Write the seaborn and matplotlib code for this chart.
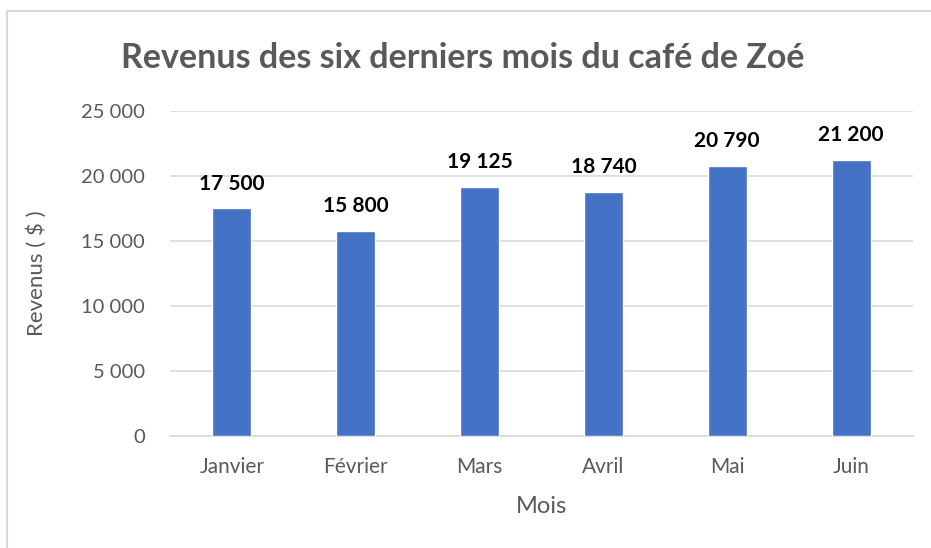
import matplotlib
matplotlib.use("Agg")
import matplotlib.pyplot as plt
from matplotlib.lines import Line2D
import seaborn as sns
import pandas as pd

# Data
mois = ["Janvier", "Février", "Mars", "Avril", "Mai", "Juin"]
revenus = [17500, 15800, 19125, 18740, 20790, 21200]
y_ticks = [0, 5000, 10000, 15000, 20000, 25000]

df = pd.DataFrame({"Mois": mois, "Revenus": revenus})

sns.set_theme(style="white")
plt.rcParams["font.family"] = ["Lato", "DejaVu Sans"]

GRAY = "#595959"
GRID = "#d9d9d9"
BLUE = "#4472C4"

fig = plt.figure(figsize=(9.31, 5.48), dpi=100)
ax = fig.add_axes([170 / 931, 1 - 436 / 548, (913 - 170) / 931, (436 - 111) / 548])

sns.barplot(data=df, x="Mois", y="Revenus", color=BLUE, width=0.315,
            saturation=1, ax=ax, zorder=3)

def fmt(v):
    return f"{v:,.0f}".replace(",", " ")

for i, v in enumerate(revenus):
    ax.annotate(fmt(v), (i, v), xytext=(0, 18), textcoords="offset points",
                ha="center", va="center", fontsize=15, fontweight="bold",
                color="black")

ax.set_ylim(0, 25000)
ax.set_xlim(-0.5, 5.5)
ax.set_yticks(y_ticks)
ax.set_yticklabels([fmt(t) for t in y_ticks], fontsize=14.5, color=GRAY)
ax.tick_params(axis="y", length=0, pad=18)
ax.tick_params(axis="x", which="major", length=0, labelsize=15,
               labelcolor=GRAY, pad=15)
ax.set_xticks([i - 0.5 for i in range(len(mois) + 1)], minor=True)
ax.tick_params(axis="x", which="minor", length=7, width=1.2, color=GRID,
               direction="out")
ax.grid(axis="y", color=GRID, linewidth=1.2, zorder=0)
ax.set_axisbelow(True)

for s in ["left", "right", "top"]:
    ax.spines[s].set_visible(False)
ax.spines["bottom"].set_color(GRID)
ax.spines["bottom"].set_linewidth(1.2)

ax.set_xlabel("Mois", fontsize=17, color=GRAY, labelpad=14)
ax.set_ylabel("Revenus ( $ )", fontsize=16, color=GRAY, labelpad=25)

fig.text(0.497, 1 - 58 / 548, "Revenus des six derniers mois du café de Zoé",
         ha="center", va="center", fontsize=24.5, fontweight="bold", color=GRAY)

# chart frame (left and top edges visible)
fig.add_artist(Line2D([7 / 931, 7 / 931], [0, 1 - 11 / 548],
                      transform=fig.transFigure, color=GRID, linewidth=1.5))
fig.add_artist(Line2D([7 / 931, 1], [1 - 11 / 548, 1 - 11 / 548],
                      transform=fig.transFigure, color=GRID, linewidth=1.5))

fig.savefig("out.png", dpi=100)
